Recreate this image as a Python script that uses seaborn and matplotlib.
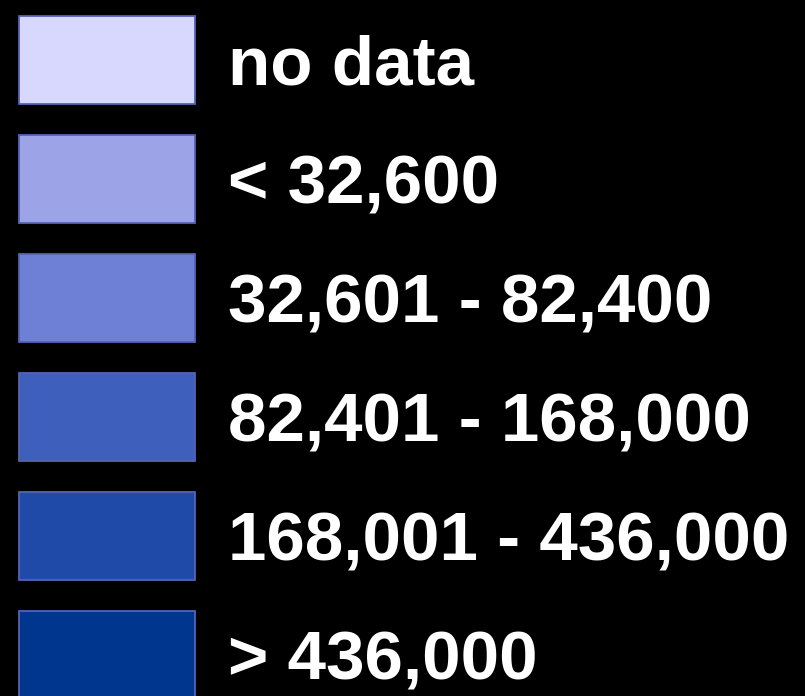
import matplotlib
matplotlib.use("Agg")
import matplotlib.pyplot as plt
import seaborn as sns
import pandas as pd

# Legend classes and their fill colours
labels = ["no data", "< 32,600", "32,601 - 82,400", "82,401 - 168,000",
          "168,001 - 436,000", "> 436,000"]
colors = ["#D8D8FF", "#9CA3E6", "#6D80D6", "#3F5FBD", "#1F4AA8", "#00368E"]

df = pd.DataFrame({"label": labels, "swatch": [1] * len(labels)})

sns.set_theme(style="dark")
plt.rcParams["font.family"] = ["Liberation Sans", "DejaVu Sans"]

fig = plt.figure(figsize=(8.05, 6.96), dpi=100, facecolor="black")
ax = fig.add_axes([0, 0, 1, 1], facecolor="black")

sns.barplot(data=df, x="swatch", y="label", hue="label", palette=colors,
            saturation=1, orient="h", width=0.74, edgecolor="#5563B5",
            linewidth=1.3, legend=False, ax=ax)

for i, lab in enumerate(labels):
    ax.text(1.1875, i + 0.21, lab, color="white", fontsize=49.8,
            fontweight="bold", ha="left", va="baseline")

ax.set_xlim(-19 / 176, (805 - 19) / 176)
ax.set_ylim((696 - 60) / 119, -60 / 119)
ax.set_axis_off()

fig.savefig("out.png", dpi=100, facecolor="black")
